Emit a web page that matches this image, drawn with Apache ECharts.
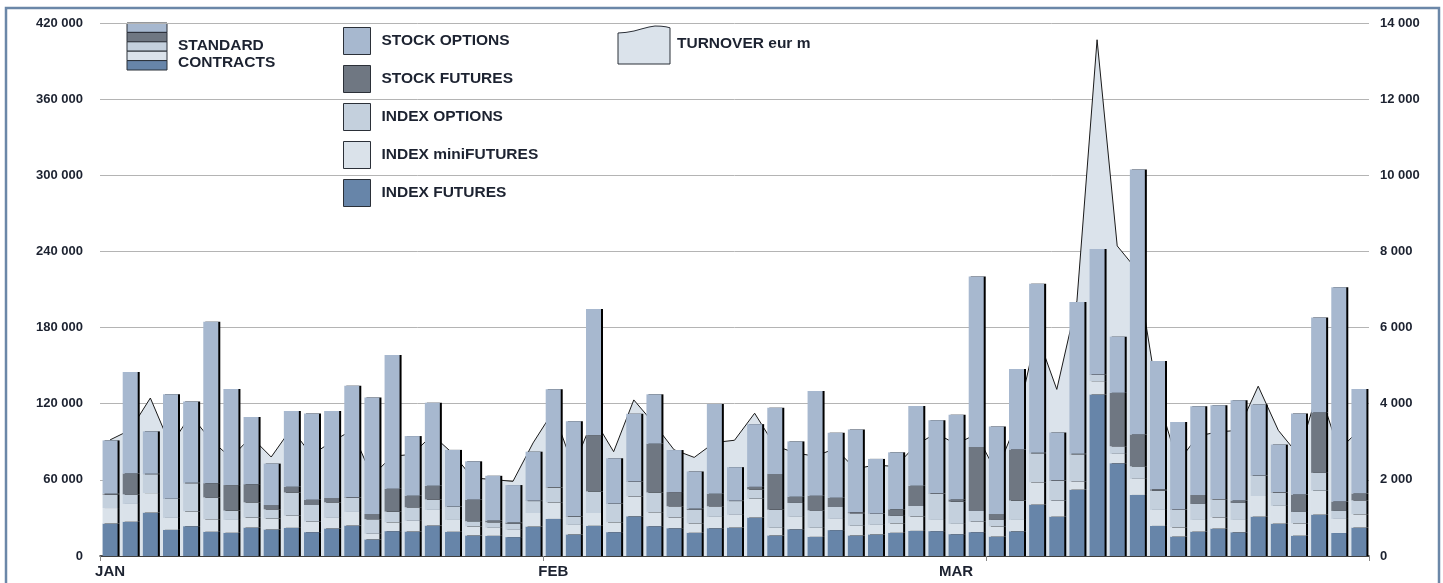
<!DOCTYPE html>
<html>
<head>
<meta charset="utf-8">
<script src="https://cdn.jsdelivr.net/npm/echarts@6/dist/echarts.min.js"></script>
<style>
  html, body { margin: 0; padding: 0; background: #fff; }
  #charts { width: 1443px; height: 583px; }
</style>
</head>
<body>
<div id="charts"></div>
<script>
// trading days, Q1 (one bar per day)
var days = [];
for (var d = 1; d <= 63; d++) days.push('D' + d);
var monthLabels = {0: 'JAN', 22: 'FEB', 42: 'MAR'};
var monthTicks = [0, 22, 44];

var indexFutures = [25600, 27000, 34200, 20600, 23500, 19100, 18300, 22400, 20900, 22200, 18800,
  21700, 24000, 13100, 19600, 19300, 24000, 19100, 16200, 15900, 14900, 23200,
  29200, 17000, 23800, 18800, 31300, 23500, 21900, 18300, 21900, 22400, 30300,
  16200, 21100, 15100, 20400, 16200, 17000, 18300, 19800, 19600, 17200, 18800,
  15300, 19500, 40500, 31000, 52300, 127300, 73100, 48100, 23700,
  15300, 19200, 21600, 18700, 31000, 25500, 16000, 32600, 18100, 22400];
var indexMiniFutures = [12200, 14000, 15400, 9400, 11700, 9900, 10100, 7900, 8600, 9600, 8300,
  8300, 10700, 4400, 7000, 8400, 12300, 9300, 7000, 6300, 5700, 10700,
  13100, 7500, 10100, 7800, 15700, 11000, 8600, 7500, 8900, 10000, 14900,
  6000, 9700, 7100, 8800, 7600, 7500, 7500, 11300, 8800, 8100, 8300,
  8100, 8900, 17600, 12700, 6300, 10500, 7400, 12700, 12600,
  7300, 9200, 8900, 9700, 16300, 14000, 9800, 18900, 11100, 10500];
var indexOptions = [10500, 7600, 14900, 14900, 22200, 17200, 7400, 12000, 7300, 18300, 13100,
  12300, 11000, 11500, 8400, 10700, 8300, 10200, 4200, 4400, 4700, 9400,
  11700, 6600, 17000, 14400, 11500, 15600, 8700, 10500, 8400, 10900, 7300,
  14300, 11000, 13800, 9400, 9900, 8600, 5800, 8300, 20700, 17500, 8400,
  5000, 15300, 22900, 15700, 21600, 5000, 6000, 9900, 15200,
  13700, 12600, 14200, 13400, 15800, 10500, 8900, 14000, 6300, 11000];
var stockFutures = [800, 16400, 300, 300, 300, 11200, 20100, 14300, 3400, 4400, 4200,
  3400, 500, 4100, 18000, 9100, 10700, 300, 17000, 1300, 1100, 300,
  300, 300, 44400, 300, 300, 38400, 11200, 1000, 9900, 300, 2000,
  28200, 4900, 11500, 7300, 800, 300, 5200, 15900, 300, 1800, 50400,
  4700, 40200, 300, 300, 300, 300, 42100, 25000, 1100,
  300, 7100, 300, 1900, 300, 300, 13700, 47600, 7400, 5300];
var stockOptions = [42000, 80000, 33400, 82200, 64000, 127100, 75600, 53000, 32600, 59800, 67800,
  68600, 88000, 91700, 105400, 47000, 65500, 44700, 30200, 35300, 29500, 38600,
  77000, 74800, 99400, 35700, 53200, 38900, 33100, 29300, 70700, 26400, 49400,
  52200, 43600, 82500, 51200, 65200, 43100, 44900, 62900, 57600, 66800, 134400,
  68900, 63400, 133300, 37600, 119600, 98900, 44200, 208900, 101000,
  68900, 70000, 73700, 79100, 56000, 37500, 63900, 74900, 168800, 82300];
// turnover, eur m (right axis)
var turnover = [3050, 3310, 4150, 2900, 3700, 3050, 2580, 3130, 2600, 3350, 2650,
  3000, 3300, 2100, 2620, 2670, 3180, 2700, 2050, 2010, 1960, 2970,
  3800, 2350, 3620, 2740, 4100, 3480, 2790, 2590, 2980, 3040, 3750,
  2900, 2710, 2620, 2820, 2290, 2390, 2350, 2910, 3225, 2940, 3200,
  2200, 3500, 5850, 4376, 6700, 13560, 8145, 7500, 4200,
  2450, 3150, 3260, 3300, 4460, 3300, 2650, 4400, 2780, 3300];

var FONT = '"Liberation Sans", Arial, sans-serif';
var TXT = '#1c2230';

function spaced(v) {
  return String(v).replace(/\B(?=(\d{3})+(?!\d))/g, ' ');
}

var myChart = echarts.init(document.getElementById('charts'), null, {renderer: 'canvas'});

var barShadow = {shadowColor: '#000', shadowOffsetX: 2, shadowOffsetY: 0, shadowBlur: 0};

function barSeries(name, data, color) {
  return {
    name: name,
    type: 'bar',
    stack: 'std',
    barWidth: 15,
    data: data,
    z: 3,
    itemStyle: Object.assign({color: color}, barShadow)
  };
}

// wavy top of the turnover legend icon
var waveIcon = [[618, 64], [618, 33], [626, 32.4], [634, 31], [642, 28.8], [649, 27], [655, 26], [661, 26.2], [666, 26.8], [670, 27.8], [670, 64]];

var option = {
  animation: false,
  backgroundColor: '#fff',
  grid: {left: 100, right: 74, top: 23, bottom: 27},
  legend: {
    data: ['STOCK OPTIONS', 'STOCK FUTURES', 'INDEX OPTIONS', 'INDEX miniFUTURES', 'INDEX FUTURES'],
    orient: 'vertical',
    left: 338,
    top: 22,
    itemWidth: 27,
    itemHeight: 27,
    itemGap: 10,
    icon: 'rect',
    selectedMode: false,
    itemStyle: {borderColor: '#2b3038', borderWidth: 1, shadowBlur: 0, shadowOffsetX: 0},
    textStyle: {fontFamily: FONT, fontWeight: 'bold', fontSize: 15.5, color: TXT, padding: [0, 0, 0, 6]}
  },
  xAxis: {
    type: 'category',
    data: days,
    boundaryGap: true,
    axisLine: {lineStyle: {color: '#1a1a1a', width: 1.5}},
    axisTick: {
      show: true,
      length: 5,
      lineStyle: {color: '#888'},
      interval: function (i) { return monthTicks.indexOf(i) >= 0; }
    },
    axisLabel: {
      interval: 0,
      margin: 8,
      fontFamily: FONT, fontWeight: 'bold', fontSize: 15, color: TXT,
      formatter: function (v, i) { return monthLabels[i] || ''; }
    },
    splitLine: {show: false}
  },
  yAxis: [
    {
      type: 'value', min: 0, max: 420000, interval: 60000,
      axisLine: {show: false}, axisTick: {show: false},
      axisLabel: {margin: 17, fontFamily: FONT, fontWeight: 'bold', fontSize: 13, color: TXT, formatter: spaced},
      splitLine: {lineStyle: {color: '#b4b4b4', width: 1}}
    },
    {
      type: 'value', min: 0, max: 14000, interval: 2000,
      axisLine: {show: false}, axisTick: {show: false},
      axisLabel: {margin: 11, fontFamily: FONT, fontWeight: 'bold', fontSize: 13, color: TXT, formatter: spaced},
      splitLine: {show: false}
    }
  ],
  series: [
    {
      name: 'TURNOVER eur m',
      type: 'line',
      yAxisIndex: 1,
      data: turnover,
      symbol: 'none',
      z: 1,
      lineStyle: {color: '#1a1a1a', width: 1},
      areaStyle: {color: '#dbe3eb', opacity: 1}
    },
    barSeries('INDEX FUTURES', indexFutures, '#6785a9'),
    barSeries('INDEX miniFUTURES', indexMiniFutures, '#dae2ea'),
    barSeries('INDEX OPTIONS', indexOptions, '#c4d0dd'),
    barSeries('STOCK FUTURES', stockFutures, '#6f7782'),
    barSeries('STOCK OPTIONS', stockOptions, '#a7b8cf')
  ],
  graphic: [
    // blue frame
    {type: 'rect', silent: true, z: 100, shape: {x: 6, y: 8, width: 1433, height: 620},
      style: {fill: 'none', stroke: '#6b87a8', lineWidth: 2.5}},
    // STANDARD CONTRACTS stacked icon
    {type: 'rect', shape: {x: 127, y: 23, width: 40, height: 9.4}, style: {fill: '#a7b8cf', stroke: '#2b3038', lineWidth: 1}},
    {type: 'rect', shape: {x: 127, y: 32.4, width: 40, height: 9.4}, style: {fill: '#6f7782', stroke: '#2b3038', lineWidth: 1}},
    {type: 'rect', shape: {x: 127, y: 41.8, width: 40, height: 9.4}, style: {fill: '#c4d0dd', stroke: '#2b3038', lineWidth: 1}},
    {type: 'rect', shape: {x: 127, y: 51.2, width: 40, height: 9.4}, style: {fill: '#dae2ea', stroke: '#2b3038', lineWidth: 1}},
    {type: 'rect', shape: {x: 127, y: 60.6, width: 40, height: 9.4}, style: {fill: '#6785a9', stroke: '#2b3038', lineWidth: 1}},
    {type: 'text', x: 178, y: 45.5, style: {text: 'STANDARD', font: 'bold 15.5px ' + FONT, fill: TXT, verticalAlign: 'middle'}},
    {type: 'text', x: 178, y: 62.5, style: {text: 'CONTRACTS', font: 'bold 15.5px ' + FONT, fill: TXT, verticalAlign: 'middle'}},
    // turnover icon
    {type: 'polygon', silent: true, shape: {points: waveIcon},
      style: {fill: '#dbe3eb', stroke: '#2b3038', lineWidth: 1}},
    {type: 'text', x: 677, y: 43.5, style: {text: 'TURNOVER eur m', font: 'bold 15.5px ' + FONT, fill: TXT, verticalAlign: 'middle'}}
  ]
};

myChart.setOption(option);
</script>
</body>
</html>
